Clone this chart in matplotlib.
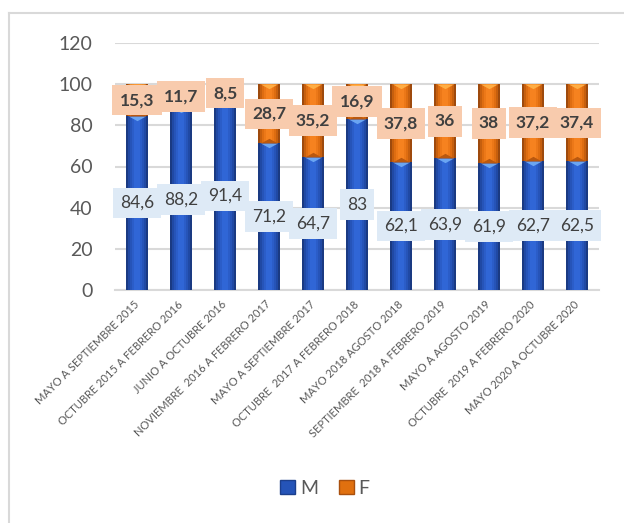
import matplotlib
matplotlib.use("Agg")
import matplotlib.pyplot as plt
from matplotlib.lines import Line2D
from matplotlib.patches import Patch

categories = ["MAYO A SEPTIEMBRE 2015", "OCTUBRE 2015 A FEBRERO 2016", "JUNIO A OCTUBRE 2016",
              "NOVIEMBRE  2016 A FEBRERO 2017", "MAYO A SEPTIEMBRE 2017", "OCTUBRE  2017 A FEBRERO 2018",
              "MAYO 2018 AGOSTO 2018", "SEPTIEMBRE  2018 A FEBRERO 2019", "MAYO A AGOSTO 2019",
              "OCTUBRE  2019 A FEBRERO 2020", "MAYO 2020 A OCTUBRE 2020"]
m_values = [84.6, 88.2, 91.4, 71.2, 64.7, 83, 62.1, 63.9, 61.9, 62.7, 62.5]
f_values = [15.3, 11.7, 8.5, 28.7, 35.2, 16.9, 37.8, 36, 38, 37.2, 37.4]
m_labels = ["84,6", "88,2", "91,4", "71,2", "64,7", "83", "62,1", "63,9", "61,9", "62,7", "62,5"]
f_labels = ["15,3", "11,7", "8,5", "28,7", "35,2", "16,9", "37,8", "36", "38", "37,2", "37,4"]
yticks = [0, 20, 40, 60, 80, 100, 120]

FONT = ["Lato", "DejaVu Sans"]
plt.rcParams['font.family'] = FONT
GRAY = "#595959"

fig = plt.figure(figsize=(6.24, 5.23), dpi=100)
ax = fig.add_axes([115/624, 1-290/523, 484/624, 247/523])

x = list(range(len(categories)))
W = 0.48
blue_layers = [("#1A3A82", 1.0), ("#2049A4", 0.85), ("#2654B8", 0.68), ("#2B5DC8", 0.5), ("#3066D6", 0.3)]
orange_layers = [("#9E4A0D", 1.0), ("#C65F0E", 0.85), ("#DE6D11", 0.68), ("#EC7818", 0.5), ("#F6821F", 0.3)]
for c, fr in blue_layers:
    ax.bar(x, m_values, width=W*fr, color=c, zorder=3, linewidth=0)
for c, fr in orange_layers:
    ax.bar(x, f_values, bottom=m_values, width=W*fr, color=c, zorder=3, linewidth=0)

tri_down = [(-1, 0), (1, 0), (0, -0.55)]
tri_up = [(-1, 0), (1, 0), (0, 0.55)]
tops = [a + b for a, b in zip(m_values, f_values)]
ax.scatter(x, m_values, marker=tri_down, s=150, color="#6AA5F2", zorder=4, linewidths=0)
ax.scatter(x, m_values, marker=tri_up, s=150, color="#B9580F", zorder=4, linewidths=0)
ax.scatter(x, tops, marker=tri_down, s=150, color="#FFAE45", zorder=4, linewidths=0)

for i in x:
    ax.text(i, m_values[i]/2, m_labels[i], ha='center', va='center', fontsize=12.5,
            color="#404040", zorder=6,
            bbox=dict(boxstyle='square,pad=0.42', fc="#DEEAF6", ec='none'))
    ax.text(i, m_values[i] + f_values[i]/2, f_labels[i], ha='center', va='center', fontsize=12.5,
            color="#404040", fontweight='bold', zorder=6,
            bbox=dict(boxstyle='square,pad=0.42', fc="#F8CBAD", ec='none'))

ax.set_xlim(-0.5, len(categories) - 0.5)
ax.set_ylim(0, 120)
ax.set_yticks(yticks)
ax.set_yticklabels([str(v) for v in yticks], fontsize=14, color=GRAY)
ax.yaxis.grid(True, color="#D9D9D9", linewidth=1.5, zorder=0)
ax.set_axisbelow(True)
for s in ["top", "right", "left"]:
    ax.spines[s].set_visible(False)
ax.spines["bottom"].set_color("#D9D9D9")
ax.spines["bottom"].set_linewidth(1.5)
ax.tick_params(axis='y', length=0, pad=16)
ax.tick_params(axis='x', length=0, pad=9)
ax.set_xticks(x)
ax.set_xticklabels(categories, rotation=45, ha='right', va='center', rotation_mode='anchor',
                   fontsize=8, color=GRAY)

# chart frame
fig.add_artist(Line2D([9/624, 1.0], [1-13/523, 1-13/523], color="#D9D9D9", lw=1.5))
fig.add_artist(Line2D([9/624, 9/624], [1-13/523, 0.0], color="#D9D9D9", lw=1.5))

handles = [Patch(facecolor="#2554B8", edgecolor="#1C3F8C"), Patch(facecolor="#E0700F", edgecolor="#A9500E")]
fig.legend(handles, ["M", "F"], loc='center', bbox_to_anchor=(325/624, 1-488/523), ncol=2,
           frameon=False, fontsize=14, handlelength=0.75, handleheight=0.75,
           handletextpad=0.25, columnspacing=1.1, labelcolor=GRAY)

fig.savefig("out.png", dpi=100)
